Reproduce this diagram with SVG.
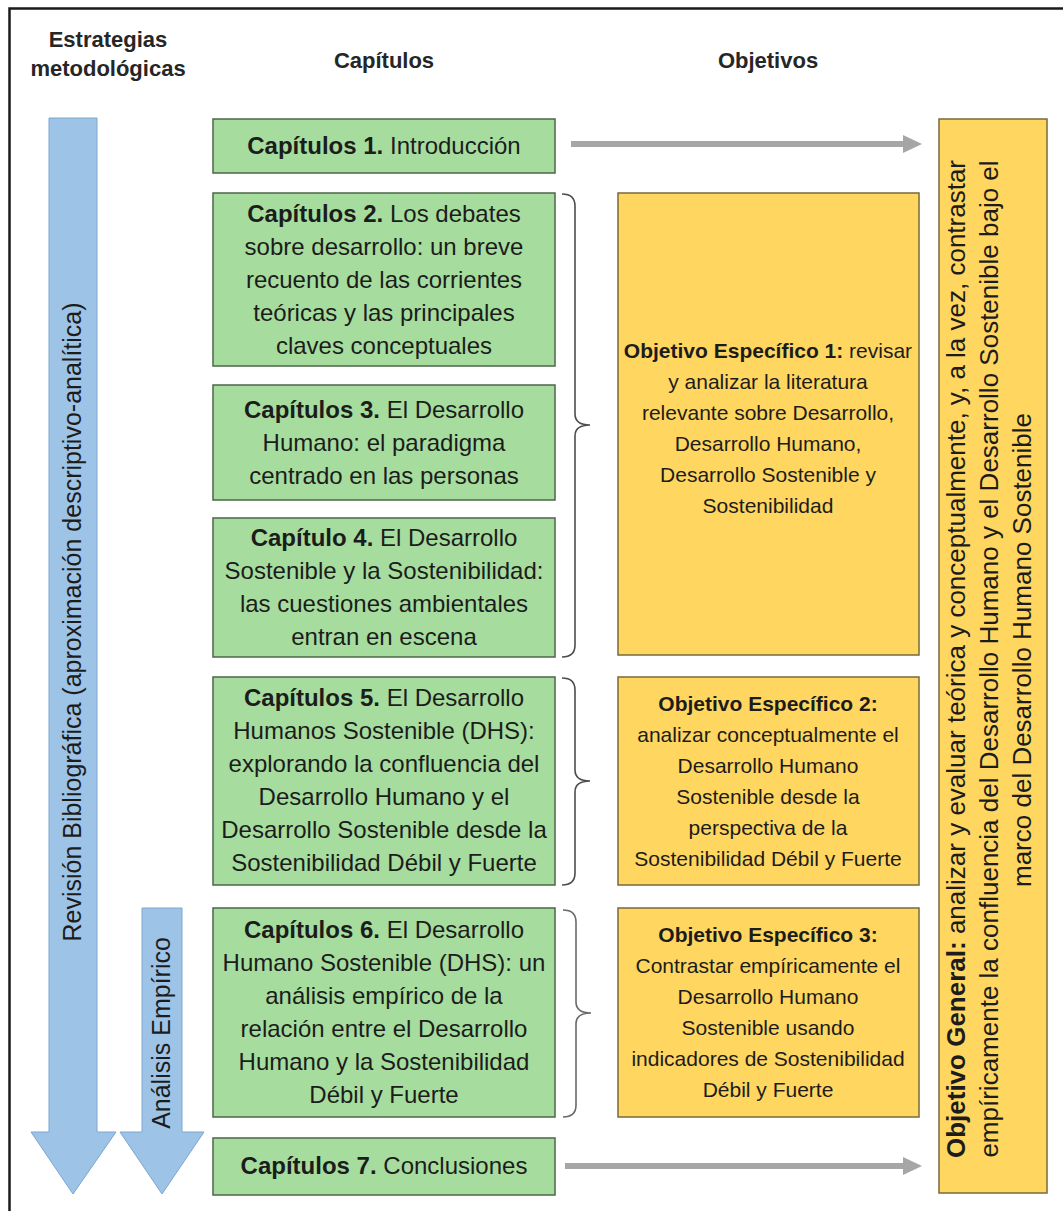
<svg xmlns="http://www.w3.org/2000/svg" width="1063" height="1211" viewBox="0 0 1063 1211">
<style>
text{font-family:"Liberation Sans",Arial,sans-serif;fill:#1c1c1c}
.hd{font-size:22px;font-weight:bold;text-anchor:middle;fill:#262626}
.g{fill:#a6dd9e;stroke:#4b6548;stroke-width:1.5}
.y{fill:#ffd65f;stroke:#7a6a3a;stroke-width:1.5}
.gt{font-size:24px;text-anchor:middle}
.ot{font-size:21px;text-anchor:middle}
.gen{font-size:26px;text-anchor:middle}
.at{font-size:25px;text-anchor:middle}
.b{font-weight:bold}
.blue{fill:#9dc3e6;stroke:#7ea6d0;stroke-width:1}
.brace{fill:none;stroke:#4d4d4d;stroke-width:1.6}
.conn{stroke:#a6a6a6;stroke-width:6;fill:none}
.head{fill:#a6a6a6}
</style>
<rect x="0" y="0" width="1063" height="1211" fill="#ffffff"/>
<path d="M9.5,1211 V8.5 H1063" fill="none" stroke="#1a1a1a" stroke-width="2.5"/>

<g id="headers">
<text class="hd" x="108" y="47">Estrategias</text>
<text class="hd" x="108" y="76">metodológicas</text>
<text class="hd" x="384" y="68">Capítulos</text>
<text class="hd" x="768" y="68">Objetivos</text>
</g>

<g id="revision-arrow">
<polygon class="blue" points="49,118 97,118 97,1132 116,1132 73,1194 31,1132 49,1132"/>
<text class="at" transform="translate(81,622) rotate(-90)">Revisión Bibliográfica (aproximación descriptivo-analítica)</text>
</g>
<g id="analisis-arrow">
<polygon class="blue" points="142,908 182,908 182,1132 204,1132 162,1194 120,1132 142,1132"/>
<text class="at" transform="translate(170,1033) rotate(-90)">Análisis Empírico</text>
</g>

<g id="cap1">
<rect class="g" x="213" y="119" width="342" height="54"/>
<text class="gt" x="384" y="154"><tspan class="b">Capítulos 1.</tspan> Introducción</text>
</g>
<g id="cap2">
<rect class="g" x="213" y="193" width="342" height="173"/>
<text class="gt" x="384" y="222"><tspan class="b">Capítulos 2.</tspan> Los debates</text>
<text class="gt" x="384" y="255">sobre desarrollo: un breve</text>
<text class="gt" x="384" y="288">recuento de las corrientes</text>
<text class="gt" x="384" y="321">teóricas y las principales</text>
<text class="gt" x="384" y="354">claves conceptuales</text>
</g>
<g id="cap3">
<rect class="g" x="213" y="385" width="342" height="115"/>
<text class="gt" x="384" y="418"><tspan class="b">Capítulos 3.</tspan> El Desarrollo</text>
<text class="gt" x="384" y="451">Humano: el paradigma</text>
<text class="gt" x="384" y="484">centrado en las personas</text>
</g>
<g id="cap4">
<rect class="g" x="213" y="518" width="342" height="139"/>
<text class="gt" x="384" y="546"><tspan class="b">Capítulo 4.</tspan> El Desarrollo</text>
<text class="gt" x="384" y="579">Sostenible y la Sostenibilidad:</text>
<text class="gt" x="384" y="612">las cuestiones ambientales</text>
<text class="gt" x="384" y="645">entran en escena</text>
</g>
<g id="cap5">
<rect class="g" x="213" y="677" width="342" height="208"/>
<text class="gt" x="384" y="706"><tspan class="b">Capítulos 5.</tspan> El Desarrollo</text>
<text class="gt" x="384" y="739">Humanos Sostenible (DHS):</text>
<text class="gt" x="384" y="772">explorando la confluencia del</text>
<text class="gt" x="384" y="805">Desarrollo Humano y el</text>
<text class="gt" x="384" y="838">Desarrollo Sostenible desde la</text>
<text class="gt" x="384" y="871">Sostenibilidad Débil y Fuerte</text>
</g>
<g id="cap6">
<rect class="g" x="213" y="908" width="342" height="209"/>
<text class="gt" x="384" y="938"><tspan class="b">Capítulos 6.</tspan> El Desarrollo</text>
<text class="gt" x="384" y="971">Humano Sostenible (DHS): un</text>
<text class="gt" x="384" y="1004">análisis empírico de la</text>
<text class="gt" x="384" y="1037">relación entre el Desarrollo</text>
<text class="gt" x="384" y="1070">Humano y la Sostenibilidad</text>
<text class="gt" x="384" y="1103">Débil y Fuerte</text>
</g>
<g id="cap7">
<rect class="g" x="213" y="1138" width="342" height="57"/>
<text class="gt" x="384" y="1174"><tspan class="b">Capítulos 7.</tspan> Conclusiones</text>
</g>

<g id="obj1">
<rect class="y" x="618" y="193" width="301" height="462"/>
<text class="ot" x="768" y="358"><tspan class="b">Objetivo Específico 1:</tspan> revisar</text>
<text class="ot" x="768" y="389">y analizar la literatura</text>
<text class="ot" x="768" y="420">relevante sobre Desarrollo,</text>
<text class="ot" x="768" y="451">Desarrollo Humano,</text>
<text class="ot" x="768" y="482">Desarrollo Sostenible y</text>
<text class="ot" x="768" y="513">Sostenibilidad</text>
</g>
<g id="obj2">
<rect class="y" x="618" y="677" width="301" height="208"/>
<text class="ot b" x="768" y="711">Objetivo Específico 2:</text>
<text class="ot" x="768" y="742">analizar conceptualmente el</text>
<text class="ot" x="768" y="773">Desarrollo Humano</text>
<text class="ot" x="768" y="804">Sostenible desde la</text>
<text class="ot" x="768" y="835">perspectiva de la</text>
<text class="ot" x="768" y="866">Sostenibilidad Débil y Fuerte</text>
</g>
<g id="obj3">
<rect class="y" x="618" y="908" width="301" height="209"/>
<text class="ot b" x="768" y="942">Objetivo Específico 3:</text>
<text class="ot" x="768" y="973">Contrastar empíricamente el</text>
<text class="ot" x="768" y="1004">Desarrollo Humano</text>
<text class="ot" x="768" y="1035">Sostenible usando</text>
<text class="ot" x="768" y="1066">indicadores de Sostenibilidad</text>
<text class="ot" x="768" y="1097">Débil y Fuerte</text>
</g>
<g id="obj-general">
<rect class="y" x="939" y="119" width="108" height="1074"/>
<text class="gen" transform="translate(965,659) rotate(-90)"><tspan class="b">Objetivo General:</tspan> analizar y evaluar teórica y conceptualmente, y, a la vez, contrastar</text>
<text class="gen" transform="translate(998,659) rotate(-90)">empíricamente la confluencia del Desarrollo Humano y el Desarrollo Sostenible bajo el</text>
<text class="gen" transform="translate(1031,650) rotate(-90)">marco del Desarrollo Humano Sostenible</text>
</g>

<g id="connectors">
<line class="conn" x1="571" y1="144" x2="906" y2="144"/>
<polygon class="head" points="903,135 922,144 903,153"/>
<line class="conn" x1="565" y1="1166" x2="906" y2="1166"/>
<polygon class="head" points="903,1157 922,1166 903,1175"/>
<path class="brace" d="M562,194 Q575,194 575,206 L575,414 Q575,425 590,425 Q575,425 575,436 L575,645 Q575,657 562,657"/>
<path class="brace" d="M562,678 Q575,678 575,690 L575,770 Q575,781 590,781 Q575,781 575,792 L575,873 Q575,885 562,885"/>
<path class="brace" d="M563,910 Q576,910 576,922 L576,1002 Q576,1013 591,1013 Q576,1013 576,1024 L576,1105 Q576,1117 563,1117" style="stroke:#6a6a6a"/>
</g>
</svg>
